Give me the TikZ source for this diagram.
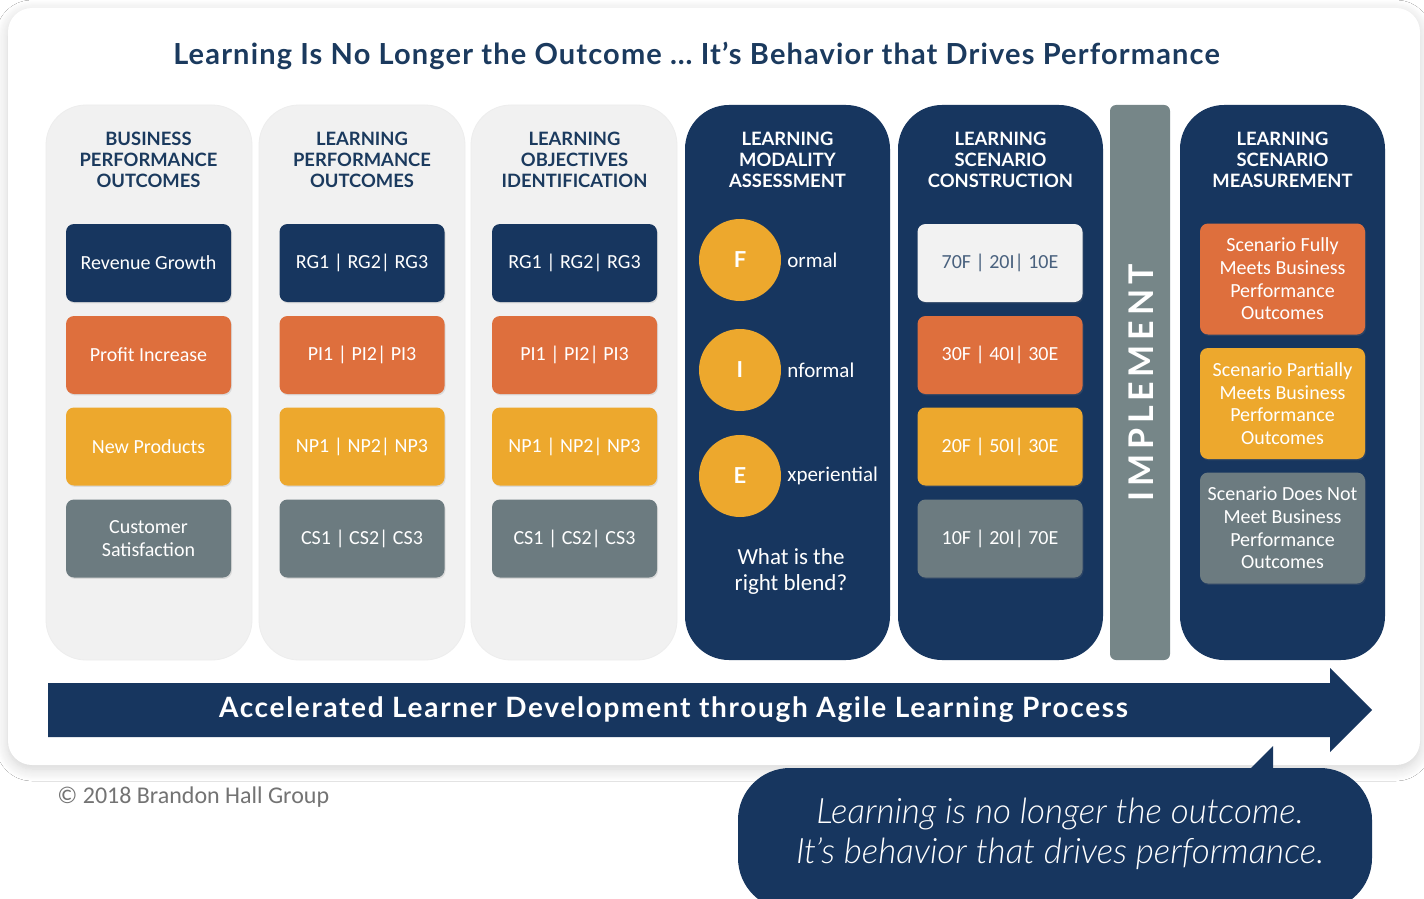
\documentclass[tikz,border=0pt]{standalone}
\usepackage{fontspec}
\setmainfont{Carlito}
\newfontfamily\headfont{Lato}
\newfontfamily\quotefont{Lato Light Italic}
\usetikzlibrary{shadows,shadows.blur}

\begin{document}
\begin{tikzpicture}[x=0.5pt,y=-0.5pt,
    colbox/.style={rounded corners=4pt,minimum width=82.5pt,minimum height=39pt,inner sep=0pt,
        align=center,text=white,font=\fontsize{10}{11.3}\selectfont,
        drop shadow={opacity=.2,shadow xshift=.5pt,shadow yshift=-.7pt}},
    heading/.style={align=center,inner sep=0pt,font=\headfont\bfseries\fontsize{9.2}{10.5}\selectfont},
    dot/.style={circle,fill=Gold,minimum size=41pt,inner sep=0pt,text=white,
        font=\headfont\bfseries\fontsize{11}{11}\selectfont},
    dotlabel/.style={anchor=west,inner sep=0pt,text=white,font=\fontsize{10.5}{12}\selectfont}]
    \definecolor{Navy}{HTML}{17365F}
    \definecolor{Ember}{HTML}{DE6F3D}
    \definecolor{Gold}{HTML}{EDA82D}
    \definecolor{Slate}{HTML}{6C7B80}
    \definecolor{Steel}{HTML}{768688}
    \definecolor{Mist}{HTML}{F1F1F1}
    \definecolor{Ink}{HTML}{1B3A5E}
    \useasboundingbox (0,0) rectangle (1424,899);
    \clip (0,0) rectangle (1424,899);
    \fill[white] (0,0) rectangle (1424,899);
    \fill[white,rounded corners=12pt,blur shadow={shadow xshift=0pt,shadow yshift=-2pt,shadow blur steps=12,
        shadow blur radius=6pt,shadow opacity=18}]
        (8,8) rectangle (1420,765);
    \node[text=Ink,font=\headfont\bfseries\fontsize{14.5}{16}\selectfont\addfontfeature{LetterSpace=4}] (title)
        at (696.5,56) {Learning Is No Longer the Outcome \dots\ It’s Behavior that Drives Performance};

    % stage columns
    \foreach \x in {46,259,471}
        \fill[Mist,draw=black!7,rounded corners=20pt] (\x,105) rectangle ++(206,555);
    \foreach \x in {685,898,1180}
        \fill[Navy,rounded corners=22pt] (\x,105) rectangle ++(205,555);
    \fill[Steel,rounded corners=3pt] (1110,105) rectangle (1170,660);

    \node[heading,text=Ink] (bpoh) at (148.5,160) {BUSINESS\\PERFORMANCE\\OUTCOMES};
    \node[heading,text=Ink] (lpoh) at (362,160) {LEARNING\\PERFORMANCE\\OUTCOMES};
    \node[heading,text=Ink] (loih) at (574.5,160) {LEARNING\\OBJECTIVES\\IDENTIFICATION};
    \node[heading,text=white] (lmah) at (787.5,160) {LEARNING\\MODALITY\\ASSESSMENT};
    \node[heading,text=white] (lsch) at (1000.5,160) {LEARNING\\SCENARIO\\CONSTRUCTION};
    \node[heading,text=white] (lsmh) at (1282.5,160) {LEARNING\\SCENARIO\\MEASUREMENT};

    \foreach \fillc/\y/\name/\code [count=\r] in {Navy/263/Revenue Growth/RG,Ember/355/Profit Increase/PI,
            Gold/446.5/New Products/NP,Slate/538.5/{Customer\\Satisfaction}/CS}{
        \node[colbox,fill=\fillc] (bpo\r) at (148.5,\y) {\name};
        \node[colbox,fill=\fillc] (lpo\r) at (362,\y) {\code1 | \code2| \code3};
        \node[colbox,fill=\fillc] (loi\r) at (574.5,\y) {\code1 | \code2| \code3};
    }

    \foreach \letter/\word/\y [count=\r] in {F/ormal/260,I/nformal/370,E/xperiential/476}{
        \node[dot] (mod\r) at (740,\y) {\letter};
        \node[dotlabel] (modl\r) at (787,\y) {\word};
    }
    \node[text=white,align=center,font=\fontsize{11.5}{13}\selectfont] (blend) at (791,571)
        {What is the\\right blend?};

    \foreach \fillc/\ink/\y/\mix [count=\r] in {black!5/Ink!80/263/70F | 20I| 10E,Ember/white/355/30F | 40I| 30E,
            Gold/white/446.5/20F | 50I| 30E,Slate/white/538.5/10F | 20I| 70E}
        \node[colbox,fill=\fillc,text=\ink] (lsc\r) at (1000,\y) {\mix};

    \foreach \fillc/\y/\first/\meet [count=\r] in {Ember/279/Scenario Fully/Meets,Gold/403.5/Scenario Partially/Meets,
            Slate/528/Scenario Does Not/Meet}
        \node[colbox,fill=\fillc,minimum height=55.5pt] (lsm\r) at (1282.5,\y)
            {\first\\\meet\ Business\\Performance\\Outcomes};

    \node[rotate=90,text=white,font=\headfont\bfseries\fontsize{17}{17}\selectfont\addfontfeature{LetterSpace=14}]
        (impl) at (1141,383) {IMPLEMENT};

    \fill[Navy] (48,683) -- (1330,683) -- (1330,668) -- (1372,710) -- (1330,752) -- (1330,737) -- (48,737) -- cycle;
    \node[text=white,font=\headfont\bfseries\fontsize{14}{15}\selectfont\addfontfeature{LetterSpace=6}] (flow)
        at (673.5,710) {Accelerated Learner Development through Agile Learning Process};

    \node[anchor=west,inner sep=0pt,text=black!55,font=\fontsize{12}{13}\selectfont] (copy) at (57,797)
        {© 2018 Brandon Hall Group};

    \fill[Navy] (1250,769) -- (1273,746) -- (1273,769) -- cycle;
    \fill[Navy,rounded corners=26pt] (738,768) rectangle (1372,910);
    \node[text=white,align=center,font=\quotefont\fontsize{17.5}{20}\selectfont] (quote) at (1060,834)
        {Learning is no longer the outcome.\\It’s behavior that drives performance.};
\end{tikzpicture}
\end{document}
